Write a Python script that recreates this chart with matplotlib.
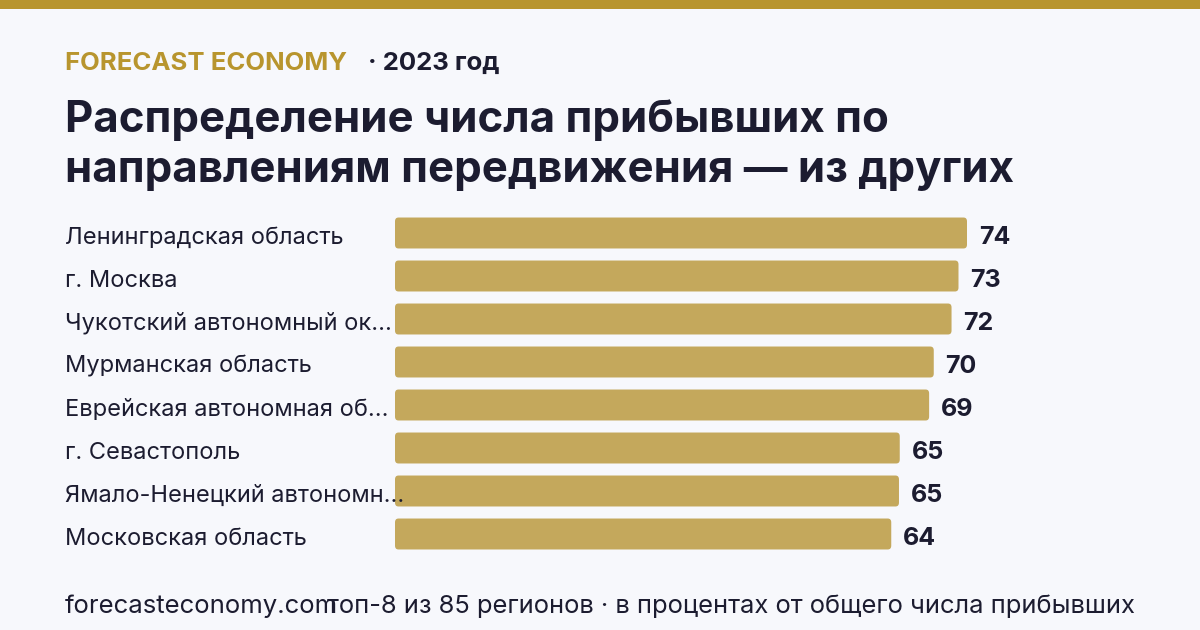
import matplotlib
matplotlib.use("Agg")
import matplotlib.pyplot as plt
import matplotlib.transforms as mtransforms
from matplotlib.patches import FancyBboxPatch, Rectangle

plt.rcParams["font.family"] = ["Inter", "DejaVu Sans"]

# data
regions = [
    "Ленинградская область",
    "г. Москва",
    "Чукотский автономный ок...",
    "Мурманская область",
    "Еврейская автономная об...",
    "г. Севастополь",
    "Ямало-Ненецкий автономн...",
    "Московская область",
]
shares = [74.0, 72.9, 72.0, 69.7, 69.1, 65.3, 65.2, 64.2]
share_labels = ["74", "73", "72", "70", "69", "65", "65", "64"]

BG = "#F7F8FC"
GOLD = "#B8952E"
BAR = "#C4A85C"
INK = "#1C1C30"

W, H = 1200, 630
fig = plt.figure(figsize=(12, 6.3), dpi=100, facecolor=BG)


def px(x, y):
    return x / W, 1 - y / H


# gold band on top
fig.patches.append(Rectangle((0, 1 - 9 / H), 1, 9 / H, transform=fig.transFigure,
                             facecolor=GOLD, edgecolor="none"))

# header
fig.text(*px(65, 70), "FORECAST ECONOMY", color=GOLD, fontsize=18.5, fontweight="bold")
fig.text(*px(368, 70), "· 2023 год", color=INK, fontsize=18.5, fontweight="bold")

# title
fig.text(*px(65, 132), "Распределение числа прибывших по", color=INK,
         fontsize=31.5, fontweight="bold")
fig.text(*px(65, 182), "направлениям передвижения — из других", color=INK,
         fontsize=31.5, fontweight="bold")

# bars
left, right = 395, 1135
top, bottom = 211.5, 555.5
ax = fig.add_axes([left / W, 1 - bottom / H, (right - left) / W, (bottom - top) / H])
ax.set_facecolor("none")
xmax = max(shares) * (right - left) / (967 - left)
ax.set_xlim(0, xmax)
ax.set_ylim(len(regions) - 0.5, -0.5)
ax.axis("off")

bar_h = 0.72
ry = 0.09
rx = 0.45
for i, v in enumerate(shares):
    p = FancyBboxPatch((0, i - bar_h / 2), v, bar_h,
                       boxstyle=f"round,pad=0,rounding_size={rx}",
                       mutation_aspect=ry / rx,
                       facecolor=BAR, edgecolor="none")
    ax.add_patch(p)
    ax.annotate(share_labels[i], (v, i), xytext=(8.5, -1.5), textcoords="offset points",
                va="center_baseline", ha="left", fontsize=18, fontweight="bold", color=INK)

trans = mtransforms.blended_transform_factory(fig.transFigure, ax.transData)
for i, name in enumerate(regions):
    ax.annotate(name, (65 / W, i), xycoords=trans, xytext=(0, -1.5),
                textcoords="offset points", va="center_baseline", ha="left",
                fontsize=17, color=INK, annotation_clip=False)

# footer
fig.text(*px(65, 613), "forecasteconomy.com", color=INK, fontsize=18.5)
fig.text(*px(327, 613), "топ-8 из 85 регионов · в процентах от общего числа прибывших",
         color=INK, fontsize=18.4)

fig.savefig("out.png", dpi=100, facecolor=BG)
